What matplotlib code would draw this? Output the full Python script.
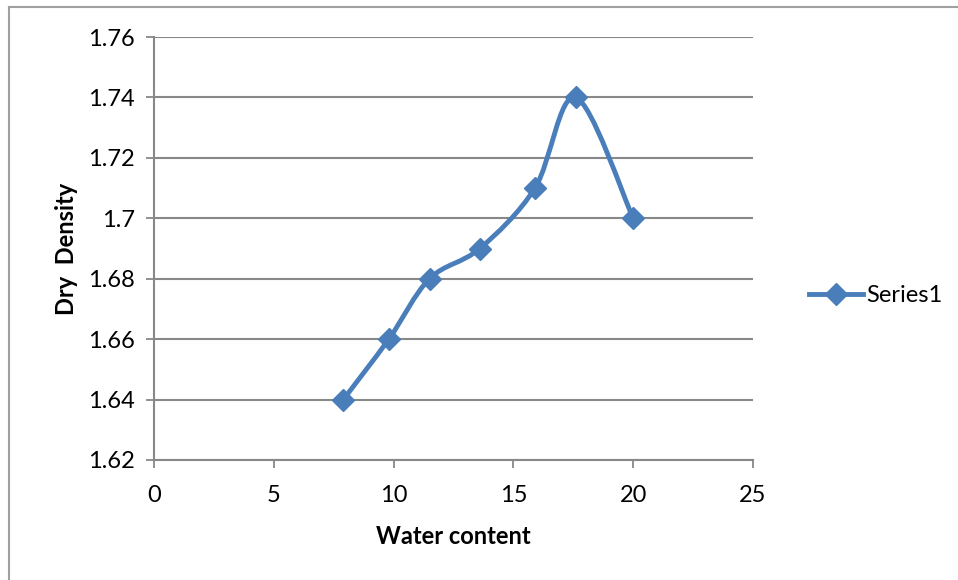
import numpy as np
import matplotlib
matplotlib.use('Agg')
import matplotlib.pyplot as plt
from matplotlib.lines import Line2D
from matplotlib.path import Path
from matplotlib.patches import PathPatch

# data
water_content = [7.9, 9.8, 11.5, 13.6, 15.9, 17.6, 20.0]
dry_density = [1.64, 1.66, 1.68, 1.69, 1.71, 1.74, 1.70]
series_name = 'Series1'
x_ticks = [0, 5, 10, 15, 20, 25]
y_ticks = [1.62, 1.64, 1.66, 1.68, 1.70, 1.72, 1.74, 1.76]
y_tick_labels = ['1.62', '1.64', '1.66', '1.68', '1.7', '1.72', '1.74', '1.76']

blue = '#4A7EBB'
grey = '#888888'
plt.rcParams['font.family'] = ['Lato', 'DejaVu Sans']

fig = plt.figure(figsize=(9.58, 5.8), dpi=100)
ax = fig.add_axes([154/958, 1-460/580, (753-154)/958, (460-37)/580])

ax.set_xlim(0, 25)
ax.set_ylim(1.62, 1.76)
ax.set_xticks(x_ticks)
ax.set_yticks(y_ticks)
ax.set_yticklabels(y_tick_labels)
ax.tick_params(axis='both', labelsize=17, colors=grey, labelcolor='black',
               length=6, width=1.3)
ax.tick_params(axis='x', pad=12)
ax.tick_params(axis='y', pad=8)
ax.yaxis.grid(True, color=grey, lw=1.5)
ax.set_axisbelow(True)
for s in ['top', 'right']:
    ax.spines[s].set_visible(False)
for s in ['left', 'bottom']:
    ax.spines[s].set_color(grey)
    ax.spines[s].set_linewidth(1.5)

# excel-like smoothed line: bezier with catmull-rom control points in screen space
fig.canvas.draw()
pts = ax.transData.transform(np.column_stack([water_content, dry_density]))
n = len(pts)
verts = [pts[0]]
codes = [Path.MOVETO]
for i in range(n - 1):
    p0 = pts[max(i - 1, 0)]
    p1 = pts[i]
    p2 = pts[i + 1]
    p3 = pts[min(i + 2, n - 1)]
    c1 = p1 + (p2 - p0) / 6.0
    c2 = p2 - (p3 - p1) / 6.0
    verts += [c1, c2, p2]
    codes += [Path.CURVE4] * 3
verts = ax.transData.inverted().transform(np.array(verts))
curve = PathPatch(Path(verts, codes), fill=False, edgecolor=blue, lw=3.5,
                  capstyle='round', joinstyle='round', transform=ax.transData, zorder=3)
ax.add_patch(curve)
ax.plot(water_content, dry_density, ls='none', marker='D', ms=11, color=blue, zorder=4)

# legend proxy
proxy = Line2D([], [], color=blue, lw=3.5, marker='D', ms=11)
fig.legend([proxy], [series_name], loc='center left', bbox_to_anchor=(797/958, 1-296/580),
           frameon=False, fontsize=17, handlelength=2.3, handletextpad=0.15, borderpad=0)

ax.set_xlabel('Water content', fontsize=17, fontweight='bold', labelpad=14)
ax.set_ylabel('Dry  Density', fontsize=17, fontweight='bold', labelpad=7)

# chart area frame (left and top edges visible)
fig.add_artist(Line2D([9/958, 9/958], [0, 1-7/580], color='#A0A0A0', lw=1.5))
fig.add_artist(Line2D([9/958, 1], [1-7/580, 1-7/580], color='#A0A0A0', lw=1.5))

fig.savefig('out.png', dpi=100)
